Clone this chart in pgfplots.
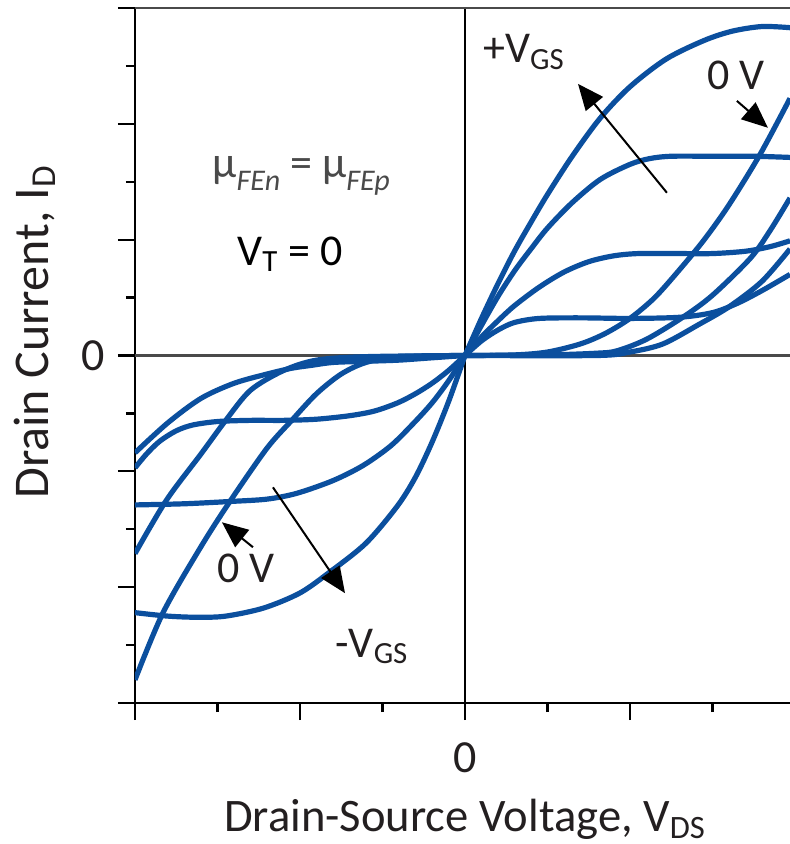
\documentclass[border=0pt]{standalone}
\usepackage{fontspec}
\setmainfont{Carlito}
\usepackage{pgfplots}
\pgfplotsset{compat=1.18}
\usetikzlibrary{arrows.meta}
\definecolor{curve}{HTML}{0B4F9E}
\definecolor{txt}{HTML}{231F20}
\definecolor{frame}{HTML}{4A4A4A}

\tikzset{crv/.style={curve, line width=2.6pt, smooth, no markers},
  ann/.style={line width=1pt, -{Triangle[length=13pt,width=11pt]}},
  lbl/.style={anchor=base west, inner sep=0, text=txt, font=\fontsize{22}{26}\selectfont}}
\newcommand{\sub}[1]{\raisebox{-6.5pt}{\fontsize{15}{15}\selectfont #1}}

\begin{document}
\begin{tikzpicture}
\begin{axis}[
  at={(0,0)}, anchor=south west,
  scale only axis, width=327.5pt, height=347.5pt,
  xmin=-2, xmax=1.97, ymin=-3, ymax=3,
  axis x line*=bottom, axis y line*=left,
  axis line style={line width=1.1pt, black, -},
  xtick={-2,-1,1}, xticklabels={},
  ytick={-3,-2,-1,1,2,3}, yticklabels={},
  minor xtick={-1.5,-0.5,0.5,1.5},
  minor ytick={-2.5,-1.5,-0.5,0.5,1.5,2.5},
  extra x ticks={0}, extra x tick labels={\textup{0}},
  extra x tick style={grid=major, major grid style={black, line width=1pt}},
  extra y ticks={0}, extra y tick labels={\textup{0}},
  extra y tick style={grid=major, major grid style={frame, line width=1.1pt}},
  tick align=outside,
  major tick length=8.5pt, minor tick length=4.5pt,
  every tick/.style={black, line width=1.1pt},
  xticklabel style={font=\fontsize{23}{27}\selectfont, text=txt, anchor=center, yshift=-19pt},
  yticklabel style={font=\fontsize{23}{27}\selectfont, text=txt, anchor=center, xshift=-12.5pt},
  xlabel={Drain-Source Voltage, V\textsubscript{DS}},
  ylabel={Drain Current, I\textsubscript{D}},
  label style={text=txt},
  xlabel style={font=\fontsize{23.3}{27}\selectfont, at={(axis description cs:0.504,-0.167)}, anchor=center},
  ylabel style={font=\fontsize{25}{29}\selectfont, at={(axis description cs:-0.153,0.534)}, anchor=center},
]
\draw[frame, line width=1.1pt] (rel axis cs:0,1) -- (rel axis cs:1,1);

% positive V_DS
\addplot[crv] coordinates {(0,0)(0.1,0.32)(0.2,0.62)(0.3,0.9)(0.4,1.15)(0.5,1.39)(0.65,1.72)(0.82,2.05)(1.0,2.32)(1.22,2.56)(1.45,2.72)(1.62,2.80)(1.8,2.84)(1.97,2.83)};
\addplot[crv] coordinates {(0,0)(0.1,0.26)(0.2,0.51)(0.3,0.73)(0.4,0.92)(0.5,1.10)(0.65,1.32)(0.82,1.52)(1.0,1.65)(1.12,1.70)(1.25,1.72)(1.5,1.72)(1.75,1.72)(1.97,1.71)};
\addplot[crv] coordinates {(0,0)(0.1,0.16)(0.2,0.30)(0.3,0.43)(0.45,0.59)(0.6,0.72)(0.75,0.81)(0.9,0.86)(1.05,0.88)(1.3,0.88)(1.5,0.88)(1.7,0.9)(1.85,0.94)(1.97,0.99)};
\addplot[crv] coordinates {(0,0)(0.1,0.126)(0.2,0.22)(0.3,0.285)(0.45,0.32)(0.7,0.325)(1.0,0.32)(1.3,0.33)(1.5,0.37)(1.65,0.45)(1.8,0.56)(1.97,0.70)};
\addplot[crv] coordinates {(0,0)(0.5,0.005)(0.8,0.02)(0.92,0.04)(1.1,0.14)(1.32,0.33)(1.5,0.52)(1.73,0.84)(1.85,1.08)(1.97,1.36)};
\addplot[crv] coordinates {(0,0)(0.8,0.0)(1.0,0.03)(1.2,0.1)(1.42,0.27)(1.6,0.42)(1.8,0.64)(1.97,0.92)};
\addplot[crv] coordinates {(0,0)(0.3,0.005)(0.5,0.03)(0.7,0.1)(0.85,0.19)(1.0,0.32)(1.15,0.5)(1.3,0.74)(1.45,1.0)(1.6,1.3)(1.79,1.74)(1.97,2.22)};

% negative V_DS
\addplot[crv] coordinates {(0,0)(-0.1,-0.4)(-0.2,-0.75)(-0.3,-1.05)(-0.41,-1.3)(-0.6,-1.62)(-0.82,-1.87)(-1.0,-2.05)(-1.22,-2.18)(-1.45,-2.25)(-1.62,-2.26)(-1.8,-2.25)(-2.0,-2.22)};
\addplot[crv] coordinates {(0,0)(-0.1,-0.22)(-0.2,-0.41)(-0.315,-0.59)(-0.45,-0.78)(-0.618,-0.95)(-0.8,-1.08)(-1.02,-1.19)(-1.2,-1.24)(-1.42,-1.26)(-1.7,-1.28)(-2.0,-1.29)};
\addplot[crv] coordinates {(0,0)(-0.1,-0.13)(-0.2,-0.24)(-0.3,-0.33)(-0.41,-0.41)(-0.55,-0.48)(-0.7,-0.52)(-0.9,-0.55)(-1.1,-0.56)(-1.3,-0.56)(-1.5,-0.57)(-1.65,-0.6)(-1.75,-0.65)(-1.85,-0.74)(-1.93,-0.85)(-2.0,-0.97)};
\addplot[crv] coordinates {(0,0)(-0.2,-0.02)(-0.4,-0.04)(-0.6,-0.05)(-0.8,-0.06)(-0.93,-0.085)(-1.05,-0.11)(-1.2,-0.16)(-1.4,-0.24)(-1.6,-0.37)(-1.8,-0.58)(-2.0,-0.84)};
\addplot[crv] coordinates {(0,0)(-0.6,-0.01)(-0.9,-0.04)(-1.1,-0.13)(-1.3,-0.3)(-1.45,-0.56)(-1.6,-0.85)(-1.81,-1.25)(-2.0,-1.71)};
\addplot[crv] coordinates {(0,0)(-0.4,-0.01)(-0.6,-0.06)(-0.75,-0.16)(-0.9,-0.33)(-1.05,-0.56)(-1.2,-0.8)(-1.42,-1.25)(-1.6,-1.65)(-1.83,-2.22)(-2.0,-2.8)};

% annotations
\draw[ann] (axis cs:1.224,1.405) -- (axis cs:0.685,2.345);
\draw[ann] (axis cs:1.648,2.198) -- (axis cs:1.836,1.966);
\draw[ann] (axis cs:-1.164,-1.138) -- (axis cs:-0.727,-2.052);
\draw[ann] (axis cs:-1.285,-1.655) -- (axis cs:-1.473,-1.44);
\node[lbl] at (axis cs:0.109,2.526) {+V\textsubscript{GS}};
\node[lbl] at (axis cs:1.467,2.30) {0 V};
\node[lbl] at (axis cs:-1.503,-1.957) {0 V};
\node[lbl] at (axis cs:-0.788,-2.603) {-V\textsubscript{GS}};
\node[lbl, text=frame] at (axis cs:-1.533,1.54) {μ\sub{\itshape FEn} = μ\sub{\itshape FEp}};
\node[lbl, text=black] at (axis cs:-1.382,0.776) {V\textsubscript{T} = 0};
\end{axis}
\pgfresetboundingbox
\path[use as bounding box] (-67.5pt,-70.5pt) rectangle (327.5pt,351.5pt);
\end{tikzpicture}
\end{document}
